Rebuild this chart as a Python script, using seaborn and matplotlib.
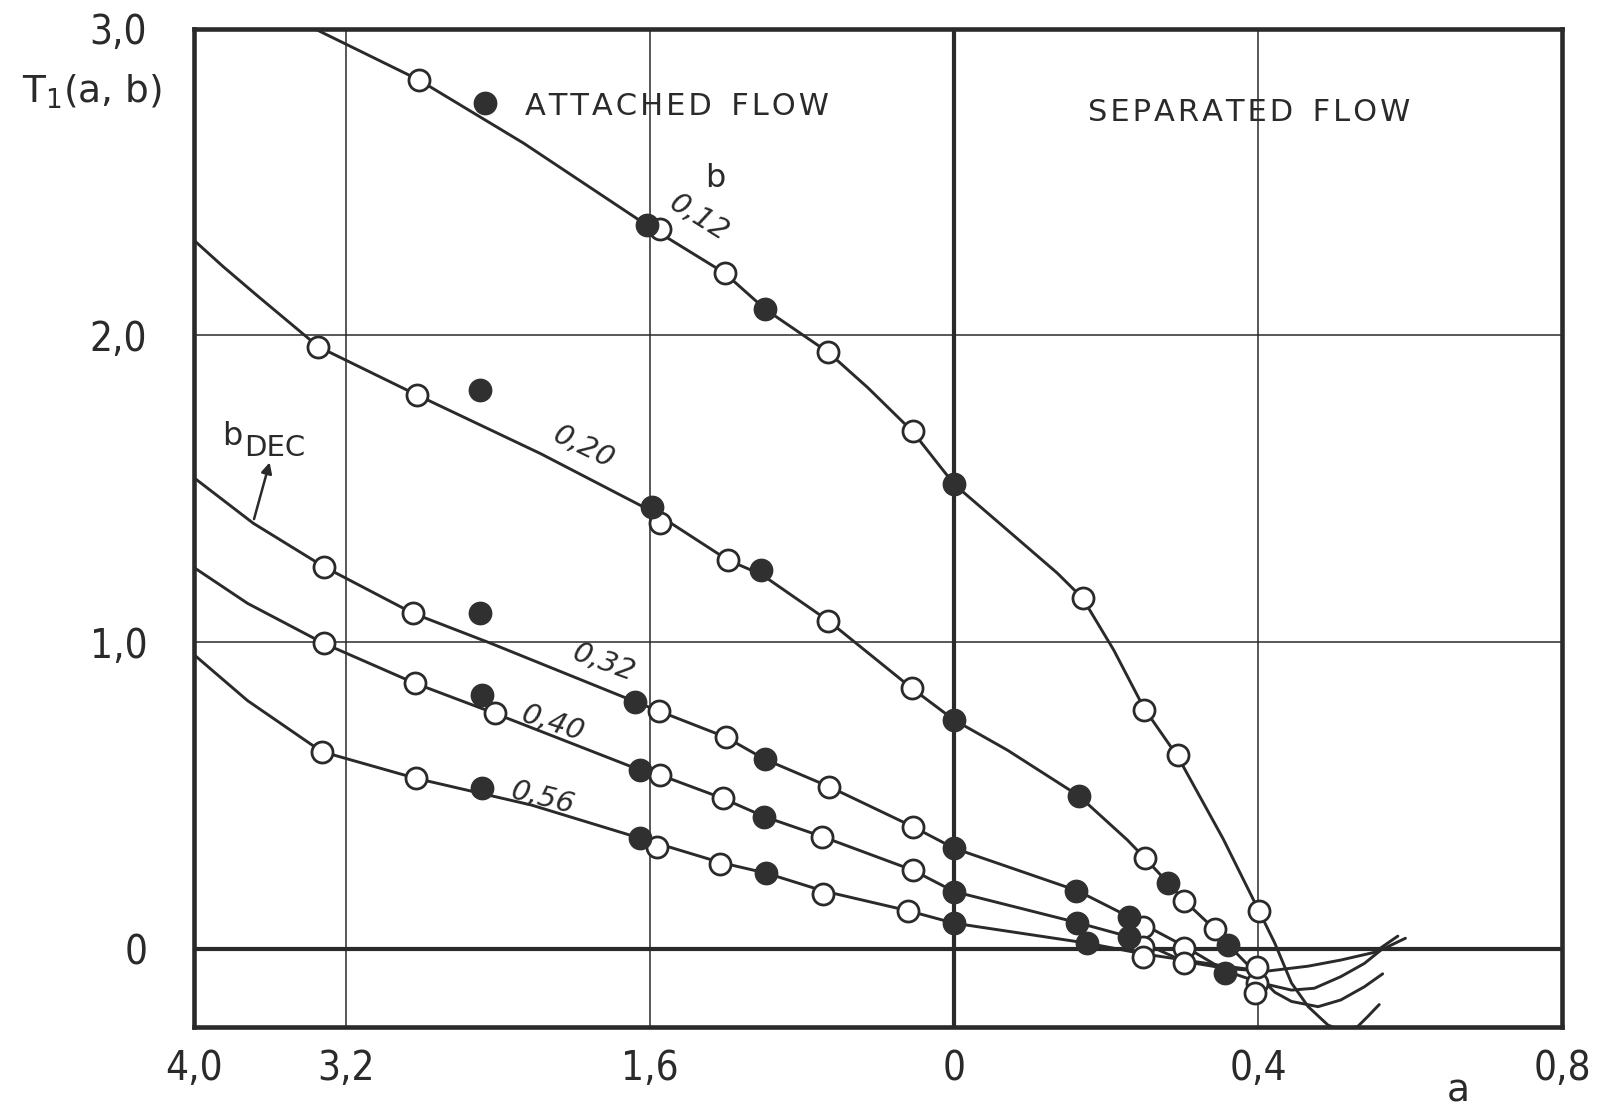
import numpy as np
import pandas as pd
import matplotlib
matplotlib.use("Agg")
import matplotlib.pyplot as plt
import seaborn as sns

# Abscissa: x < 0 is the left branch (labelled by |a|, 4,0 ... 0),
# x > 0 is the right branch (0 ... 0,8), drawn four times wider per unit.
b_labels = ["0,12", "0,20", "0,32", "0,40", "0,56"]

# Faired curves T1(a, b)
line_012_x = [-3.37, -2.82, -2.266, -1.62, -1.208, -0.994, -0.663, -0.455, -0.219, 0.0, 0.07, 0.136,
              0.169, 0.21, 0.25, 0.295, 0.354, 0.401, 0.422, 0.444, 0.466, 0.492, 0.509, 0.531, 0.544, 0.5595]
line_012_y = [3.0, 2.833, 2.626, 2.36, 2.203, 2.085, 1.945, 1.83, 1.687, 1.515, 1.366, 1.225,
              1.144, 0.975, 0.785, 0.625, 0.36, 0.126, 0.02, -0.11, -0.187, -0.247, -0.263, -0.252, -0.22, -0.18]

line_020_x = [-4.02, -3.85, -3.67, -3.347, -2.828, -2.178, -1.57, -1.191, -1.011, -0.664, -0.222, 0.0, 0.07,
              0.164, 0.228, 0.251, 0.282, 0.303, 0.343, 0.361, 0.40, 0.422, 0.444, 0.479, 0.509, 0.540, 0.564]
line_020_y = [2.32, 2.225, 2.13, 1.963, 1.806, 1.615, 1.42, 1.268, 1.22, 1.071, 0.850, 0.747, 0.649,
              0.50, 0.356, 0.297, 0.215, 0.158, 0.065, 0.014, -0.085, -0.14, -0.17, -0.187, -0.165, -0.122, -0.08]

line_032_x = [-4.01, -3.69, -3.32, -2.85, -2.44, -1.681, -1.554, -1.202, -0.997, -0.659, -0.219, 0.0,
              0.162, 0.23, 0.303, 0.357, 0.404, 0.444, 0.474, 0.509, 0.540, 0.562, 0.594]
line_032_y = [1.54, 1.388, 1.247, 1.095, 0.997, 0.807, 0.776, 0.691, 0.619, 0.530, 0.40, 0.329,
              0.191, 0.106, 0.01, -0.07, -0.11, -0.133, -0.127, -0.089, -0.046, -0.002, 0.036]

line_040_x = [-4.01, -3.72, -3.32, -2.84, -2.42, -1.654, -1.549, -1.219, -0.999, -0.694, -0.219, 0.0,
              0.162, 0.23, 0.249, 0.303, 0.357, 0.409, 0.466, 0.509, 0.553, 0.584]
line_040_y = [1.247, 1.127, 0.997, 0.867, 0.769, 0.584, 0.568, 0.492, 0.432, 0.367, 0.258, 0.188,
              0.087, 0.041, 0.02, -0.04, -0.062, -0.072, -0.055, -0.035, -0.01, 0.043]

line_056_x = [-4.01, -3.72, -3.33, -2.834, -2.226, -1.654, -1.232, -0.989, -0.689, -0.245, 0.0,
              0.175, 0.249, 0.303, 0.357, 0.409]
line_056_y = [0.964, 0.81, 0.644, 0.557, 0.47, 0.362, 0.283, 0.248, 0.19, 0.126, 0.085,
              0.02, -0.015, -0.035, -0.055, -0.072]

# Measured points: open = separated flow, filled = attached flow
open_012_x = [-2.82, -1.549, -1.208, -0.663, -0.219, 0.169, 0.250, 0.295, 0.401]
open_012_y = [2.833, 2.346, 2.203, 1.945, 1.687, 1.144, 0.780, 0.633, 0.126]
filled_012_x = [-1.619, -0.994, 0.0]
filled_012_y = [2.360, 2.085, 1.515]

open_020_x = [-3.347, -2.828, -1.549, -1.191, -0.664, -0.222, 0.251, 0.303, 0.343]
open_020_y = [1.963, 1.806, 1.388, 1.268, 1.071, 0.850, 0.297, 0.158, 0.065]
filled_020_x = [-2.494, -1.593, -1.018, 0.0, 0.164, 0.282, 0.361]
filled_020_y = [1.822, 1.442, 1.236, 0.747, 0.500, 0.215, 0.014]

open_032_x = [-3.32, -2.85, -1.554, -1.202, -0.659, -0.219, 0.249, 0.303, 0.398]
open_032_y = [1.247, 1.095, 0.776, 0.691, 0.530, 0.400, 0.074, 0.003, -0.111]
filled_032_x = [-2.496, -1.681, -0.997, 0.0, 0.161, 0.230, 0.357]
filled_032_y = [1.095, 0.807, 0.619, 0.329, 0.191, 0.106, -0.076]

open_040_x = [-3.32, -2.84, -2.42, -1.549, -1.219, -0.694, -0.219, 0.249, 0.303, 0.398]
open_040_y = [0.997, 0.867, 0.769, 0.568, 0.492, 0.367, 0.258, 0.008, -0.046, -0.057]
filled_040_x = [-2.486, -1.654, -0.999, 0.0, 0.162, 0.230]
filled_040_y = [0.829, 0.584, 0.432, 0.188, 0.087, 0.041]

open_056_x = [-3.33, -2.834, -1.566, -1.232, -0.689, -0.245, 0.249, 0.396]
open_056_y = [0.644, 0.557, 0.334, 0.277, 0.179, 0.126, -0.024, -0.143]
filled_056_x = [-2.486, -1.654, -0.989, 0.0, 0.175]
filled_056_y = [0.525, 0.362, 0.248, 0.085, 0.020]

x_ticks = [-4.0, -3.2, -1.6, 0.0, 0.4, 0.8]
x_tick_labels = ["4,0", "3,2", "1,6", "0", "0,4", "0,8"]
y_ticks = [0.0, 1.0, 2.0, 3.0]
y_tick_labels = ["0", "1,0", "2,0", "3,0"]

line_sets = [(line_012_x, line_012_y), (line_020_x, line_020_y), (line_032_x, line_032_y),
             (line_040_x, line_040_y), (line_056_x, line_056_y)]
open_sets = [(open_012_x, open_012_y), (open_020_x, open_020_y), (open_032_x, open_032_y),
             (open_040_x, open_040_y), (open_056_x, open_056_y)]
filled_sets = [(filled_012_x, filled_012_y), (filled_020_x, filled_020_y), (filled_032_x, filled_032_y),
               (filled_040_x, filled_040_y), (filled_056_x, filled_056_y)]


def long_frame(sets):
    rows = []
    for lab, (xs, ys) in zip(b_labels, sets):
        for x, y in zip(xs, ys):
            rows.append({"a": x, "T": y, "b": lab})
    return pd.DataFrame(rows)


def spaced(word):
    # stencil lettering has wide tracking: hair space between letters
    return "\u200a".join(word)


df_lines = long_frame(line_sets)
df_open = long_frame(open_sets)
df_filled = long_frame(filled_sets)

sns.set_style("white")
plt.rcParams["font.family"] = ["DejaVu Sans"]
plt.rcParams["mathtext.fontset"] = "dejavusans"

ink = "#2a2a2a"
fig = plt.figure(figsize=(16.04, 11.09), dpi=100)
ax = fig.add_axes([0.1212, 0.0740, 0.8526, 0.9003])

# grid and heavy reference lines
for gx in [-3.2, -1.6, 0.4]:
    ax.axvline(gx, color=ink, lw=1.1, zorder=1)
for gy in [1.0, 2.0]:
    ax.axhline(gy, color=ink, lw=1.1, zorder=1)
ax.axvline(0.0, color=ink, lw=3.0, zorder=1)
ax.axhline(0.0, color=ink, lw=3.0, zorder=1)

sns.lineplot(data=df_lines, x="a", y="T", hue="b", palette=[ink] * len(b_labels),
             sort=False, estimator=None, legend=False, linewidth=2.1, ax=ax, zorder=2)
sns.scatterplot(data=df_open, x="a", y="T", marker="o", s=230, color="white",
                edgecolor=ink, linewidth=2.0, legend=False, ax=ax, zorder=4)
sns.scatterplot(data=df_filled, x="a", y="T", marker="o", s=260, color="#303030",
                edgecolor="#303030", linewidth=1.0, legend=False, ax=ax, zorder=5)

ax.set_xscale("function", functions=(lambda x: np.where(x <= 0, x, 4.0 * x),
                                     lambda u: np.where(u <= 0, u, u / 4.0)))
ax.set_xlim(-4.0, 0.8)
ax.set_ylim(-0.253, 3.0)
ax.set_xticks(x_ticks)
ax.set_xticklabels(x_tick_labels)
ax.set_yticks(y_ticks)
ax.set_yticklabels(y_tick_labels)
ax.tick_params(axis="both", length=0, labelsize=29, colors=ink)
ax.tick_params(axis="x", pad=16)
ax.tick_params(axis="y", pad=34)
for lab in ax.get_xticklabels() + ax.get_yticklabels():
    lab.set_fontstretch("condensed")
ax.set_xlabel("")
ax.set_ylabel("")
for sp in ax.spines.values():
    sp.set_visible(True)
    sp.set_color(ink)
    sp.set_linewidth(3.3)

# annotations
txt = dict(color=ink, zorder=6)
fig.text(0.0137, 0.917, r"T$_1$(a, b)", fontsize=27, va="center", ha="left", **txt)
ax.scatter([-2.468], [2.757], s=260, color="#303030", zorder=5)
ax.text(-2.257, 2.745, spaced("ATTACHED") + "  " + spaced("FLOW"), fontsize=22,
        va="center", ha="left", **txt)
ax.text(0.1756, 2.727, spaced("SEPARATED") + "  " + spaced("FLOW"), fontsize=22,
        va="center", ha="left", **txt)
ax.text(-1.26, 2.51, "b", fontsize=23, va="center", ha="center", **txt)

label_pos = [(-1.345, 2.383, -32), (-1.951, 1.636, -26), (-1.843, 0.933, -20),
             (-2.114, 0.734, -18), (-2.167, 0.493, -14)]
for lab, (lx, ly, rot) in zip(b_labels, label_pos):
    ax.text(lx, ly, lab, fontsize=21, rotation=rot, ha="center", va="center",
            style="italic", rotation_mode="anchor", **txt)

ax.text(-3.80, 1.67, "b", fontsize=23, ha="center", va="center", **txt)
ax.text(-3.575, 1.633, "DEC", fontsize=21, ha="center", va="center", **txt)
ax.annotate("", xy=(-3.60, 1.595), xytext=(-3.69, 1.393),
            arrowprops=dict(arrowstyle="-|>", color=ink, lw=1.8, mutation_scale=16), zorder=6)

fig.text(1458 / 1604, 1 - 1092 / 1109, "a", fontsize=27, ha="center", va="center", **txt)

fig.savefig("out.png", dpi=100, facecolor="white")
